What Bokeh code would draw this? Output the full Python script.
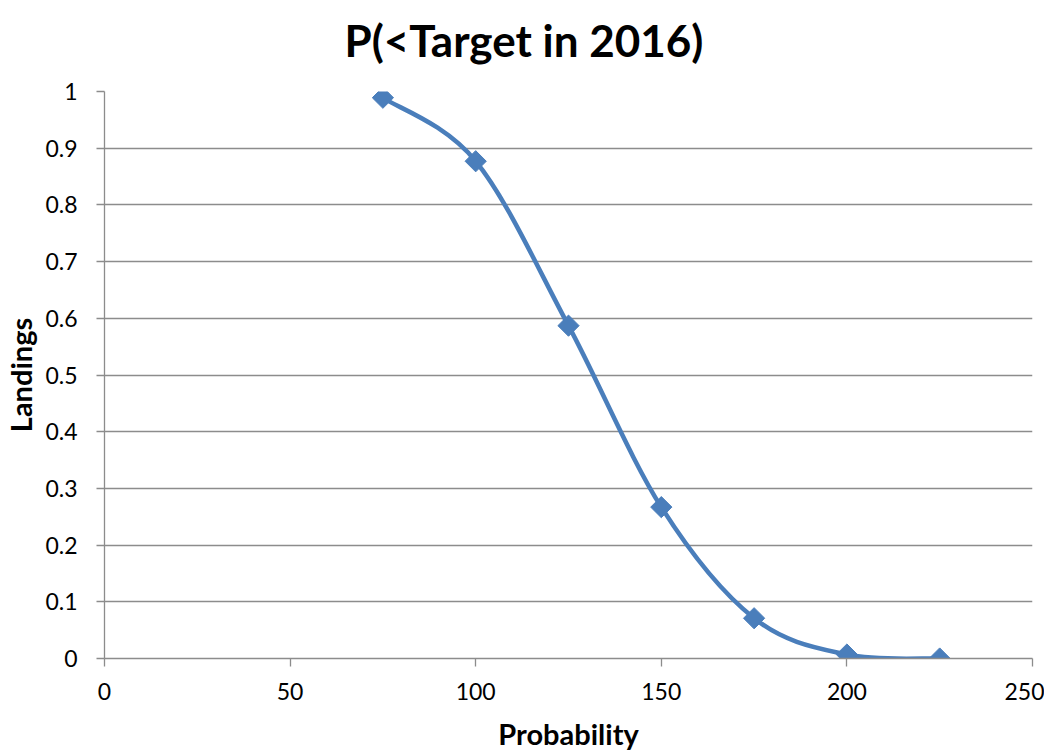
import math
from bokeh.plotting import figure
from bokeh.models import ColumnDataSource, FixedTicker, Title
from bokeh.embed import file_html
from bokeh.resources import INLINE

# ---- data ----
probability = [75, 100, 125, 150, 175, 200, 225]
landings = [0.989, 0.877, 0.587, 0.267, 0.071, 0.007, 0.0]
x_ticks = [0, 50, 100, 150, 200, 250]
y_ticks = [0, 0.1, 0.2, 0.3, 0.4, 0.5, 0.6, 0.7, 0.8, 0.9, 1]
title_text = "P(<Target in 2016)"
x_label = "Probability"
y_label = "Landings"

BLUE = "#4A7EBB"
GRID = "#8C8C8C"
FONT = "Lato"

p = figure(width=1044, height=755, x_range=(0, 250), y_range=(0, 1),
           output_backend="svg", toolbar_location=None,
           min_border_left=104, min_border_right=12, min_border_top=91,
           min_border_bottom=97)
p.outline_line_color = None

# smoothed line (Excel-style cubic Bezier through the points)
n = len(probability)
x0, y0, x1, y1, cx0, cy0, cx1, cy1 = [], [], [], [], [], [], [], []
for i in range(n - 1):
    xp, yp = (probability[i - 1], landings[i - 1]) if i > 0 else (probability[i], landings[i])
    xn, yn = (probability[i + 2], landings[i + 2]) if i + 2 < n else (probability[i + 1], landings[i + 1])
    x0.append(probability[i]); y0.append(landings[i])
    x1.append(probability[i + 1]); y1.append(landings[i + 1])
    cx0.append(probability[i] + (probability[i + 1] - xp) / 6)
    cy0.append(landings[i] + (landings[i + 1] - yp) / 6)
    cx1.append(probability[i + 1] - (xn - probability[i]) / 6)
    cy1.append(landings[i + 1] - (yn - landings[i]) / 6)
bsrc = ColumnDataSource(dict(x0=x0, y0=y0, x1=x1, y1=y1, cx0=cx0, cy0=cy0, cx1=cx1, cy1=cy1))
p.bezier(x0="x0", y0="y0", x1="x1", y1="y1", cx0="cx0", cy0="cy0", cx1="cx1", cy1="cy1",
         source=bsrc, line_color=BLUE, line_width=4.5)

src = ColumnDataSource(dict(x=probability, y=landings))
p.scatter("x", "y", source=src, marker="square", angle=math.pi / 4, size=15,
          fill_color=BLUE, line_color=BLUE)

# grid
p.xgrid.grid_line_color = None
p.ygrid.grid_line_color = GRID
p.ygrid.grid_line_width = 1.3
p.ygrid.ticker = FixedTicker(ticks=y_ticks)

# axes
p.xaxis.ticker = FixedTicker(ticks=x_ticks)
p.yaxis.ticker = FixedTicker(ticks=y_ticks)
p.yaxis.major_label_overrides = {0: "0", 1: "1"}
for ax in (p.xaxis[0], p.yaxis[0]):
    ax.axis_line_color = GRID
    ax.axis_line_width = 1.3
    ax.major_tick_line_color = GRID
    ax.major_tick_line_width = 1.3
    ax.major_tick_in = 0
    ax.major_tick_out = 8
    ax.minor_tick_line_color = None
    ax.major_label_text_font = FONT
    ax.major_label_text_font_size = "23px"
    ax.major_label_text_color = "#000000"
    ax.axis_label_text_font = FONT
    ax.axis_label_text_font_size = "29px"
    ax.axis_label_text_font_style = "bold"
    ax.axis_label_text_color = "#000000"
p.xaxis.axis_label = x_label
p.yaxis.axis_label = y_label
p.xaxis.major_label_standoff = 16
p.yaxis.major_label_standoff = 19
p.xaxis.axis_label_standoff = 13
p.yaxis.axis_label_standoff = 4

# spacer (closest to the frame) pushes the main title upward without moving the frame
spacer = Title(text=".", text_font=FONT, text_font_size="10px", text_color="#FFFFFF",
               standoff=17)
p.add_layout(spacer, "above")
t = Title(text=title_text, align="left", text_font=FONT,
          text_font_size="44px", text_font_style="bold", text_color="#000000",
          standoff=0, offset=240)
p.add_layout(t, "above")

open("out.html", "w").write(file_html(p, INLINE))
